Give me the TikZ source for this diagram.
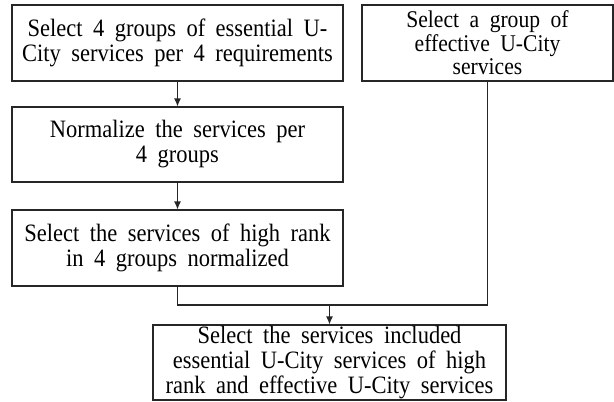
\documentclass[tikz,border=0pt]{standalone}
\usepackage{fontspec}
\setmainfont[FakeStretch=0.9]{Liberation Serif}
\usetikzlibrary{arrows.meta}
\newcommand\widewords{\spaceskip=10.5pt plus 2pt minus 2pt\relax}
\begin{document}
\begin{tikzpicture}[x=1pt,y=-1pt,
  stepbox/.style={draw=black!85, line width=1.1pt, inner sep=0pt, align=center,
    font=\fontsize{25}{25}\selectfont, execute at begin node=\widewords},
  link/.style={draw=black!85, line width=1.1pt},
  flow/.style={link, -{Latex[length=8pt,width=7pt]}}]
\useasboundingbox (0,0) rectangle (614,402);
% left chain of steps
\node[stepbox, minimum width=331pt, minimum height=76pt] (b1) at (177.5,43)
  {Select 4 groups of essential U-\\City services per 4 requirements};
\node[stepbox, minimum width=331pt, minimum height=75pt] (b2) at (177.5,144.5)
  {Normalize the services per\\4 groups};
\node[stepbox, minimum width=331pt, minimum height=76pt] (b3) at (177.5,248)
  {Select the services of high rank\\in 4 groups normalized};
% right-hand step
\node[stepbox, minimum width=251pt, minimum height=76pt,
  font=\fontsize{24}{23.5}\selectfont] (r) at (487.5,43)
  {Select a group of\\effective U-City\\services};
% final step
\node[stepbox, minimum width=353pt, minimum height=75pt] (b4) at (329.5,362.5)
  {Select the services included\\essential U-City services of high\\rank and effective U-City services};
% connectors
\coordinate (jl) at (177.5,305);
\coordinate (jm) at (329.5,305);
\coordinate (jr) at (487.5,305);
\draw[flow] (b1) -- (b2);
\draw[flow] (b2) -- (b3);
\draw[link] (b3.south) -- (jl) -- (jr) -- (r.south);
\draw[flow] (jm) -- (b4.north);
\end{tikzpicture}
\end{document}
